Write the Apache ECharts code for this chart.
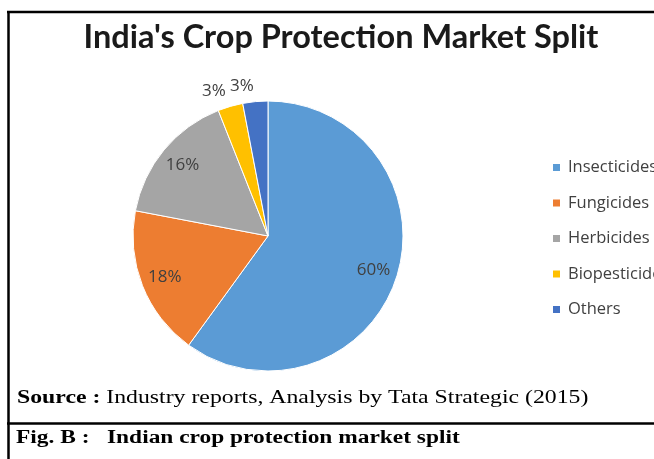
<!DOCTYPE html>
<html>
<head>
<meta charset="utf-8">
<script src="https://cdn.jsdelivr.net/npm/echarts@6/dist/echarts.min.js"></script>
<style>
html,body{margin:0;padding:0;background:#fff;}
#chart{width:654px;height:459px;}
</style>
</head>
<body>
<div id="chart"></div>
<script>
const categories = ['Insecticides', 'Fungicides', 'Herbicides', 'Biopesticides', 'Others'];
const shares = [60, 18, 16, 3, 3];
const colors = ['#5B9BD5', '#ED7D31', '#A5A5A5', '#FFC000', '#4472C4'];
const titleText = "India's Crop Protection Market Split";
const sourceLabel = 'Source :';
const sourceText = ' Industry reports, Analysis by Tata Strategic (2015)';
const figLabel = 'Fig. B :';
const figText = 'Indian crop protection market split';
const insideThreshold = 10;

const chart = echarts.init(document.getElementById('chart'), null, {renderer: 'canvas'});

const mainData = categories.map((c, i) => ({
  name: c,
  value: shares[i],
  itemStyle: {color: colors[i]},
  label: {show: shares[i] < insideThreshold}
}));
const overlayData = categories.map((c, i) => ({
  name: c,
  value: shares[i],
  itemStyle: {color: 'rgba(0,0,0,0)', borderWidth: 0},
  label: {show: shares[i] >= insideThreshold}
}));

const labelFont = {fontFamily: 'Open Sans', fontSize: 17, color: '#404040'};

chart.setOption({
  animation: false,
  color: colors,
  title: {
    text: titleText,
    left: 336,
    textAlign: 'center',
    top: 16,
    textStyle: {fontFamily: 'Lato', fontWeight: 'bold', fontSize: 32.5, color: '#1a1a1a'}
  },
  legend: {
    orient: 'vertical',
    left: 551,
    top: 159,
    padding: 0,
    icon: 'rect',
    itemWidth: 9,
    itemHeight: 9,
    itemGap: 18.5,
    data: categories,
    textStyle: {fontFamily: 'Open Sans', fontSize: 16.5, color: '#404040', lineHeight: 17, padding: [0, 0, 0, 2]}
  },
  series: [
    {
      type: 'pie',
      center: [268, 236],
      radius: [0, 135],
      startAngle: 90,
      clockwise: true,
      avoidLabelOverlap: false,
      itemStyle: {borderColor: '#ffffff', borderWidth: 1},
      label: Object.assign({position: 'outside', formatter: '{c}%', distanceToLabelLine: 0}, labelFont),
      labelLine: {show: false, length: 16, length2: 0},
      emphasis: {disabled: true},
      data: mainData
    },
    {
      type: 'pie',
      center: [268, 236],
      radius: [81, 135],
      startAngle: 90,
      clockwise: true,
      silent: true,
      avoidLabelOverlap: false,
      label: Object.assign({position: 'inside', formatter: '{c}%'}, labelFont),
      labelLine: {show: false},
      emphasis: {disabled: true},
      data: overlayData
    }
  ],
  graphic: [
    {type: 'line', shape: {x1: 7, y1: 12, x2: 660, y2: 12}, style: {stroke: '#000', lineWidth: 2.5}},
    {type: 'line', shape: {x1: 8.5, y1: 11, x2: 8.5, y2: 470}, style: {stroke: '#000', lineWidth: 2.5}},
    {type: 'line', shape: {x1: 7, y1: 423.5, x2: 660, y2: 423.5}, style: {stroke: '#000', lineWidth: 2.5}},
    {
      type: 'text', x: 17, y: 389, scaleX: 1.32,
      style: {
        text: '{b|' + sourceLabel + '}{r|' + sourceText + '}',
        rich: {
          b: {fontFamily: 'Liberation Serif', fontWeight: 'bold', fontSize: 18, fill: '#000'},
          r: {fontFamily: 'Liberation Serif', fontSize: 18, fill: '#000'}
        }
      }
    },
    {
      type: 'text', x: 16, y: 429, scaleX: 1.3,
      style: {
        text: figLabel + '   ' + figText,
        fontFamily: 'Liberation Serif', fontWeight: 'bold', fontSize: 18, fill: '#000'
      }
    }
  ]
});
</script>
</body>
</html>
